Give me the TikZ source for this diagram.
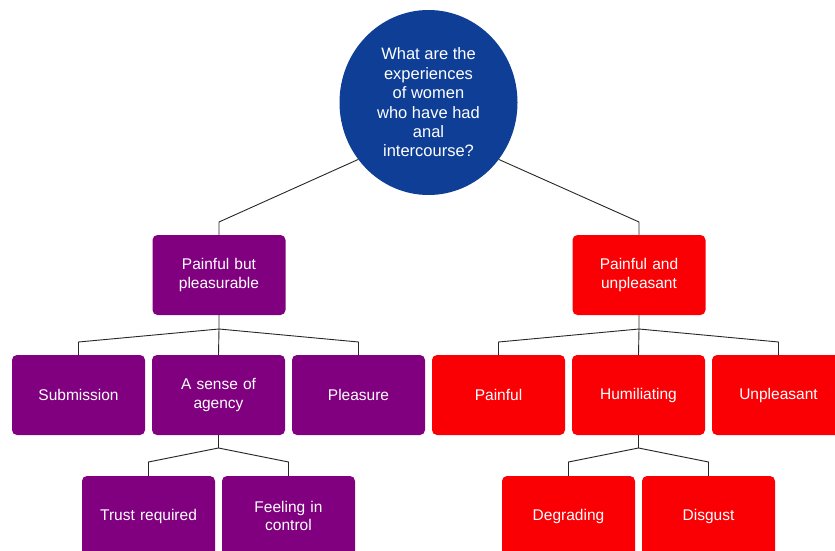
\documentclass[tikz,border=0pt]{standalone}
\usepackage{fontspec}
\setmainfont{Liberation Sans}
\usetikzlibrary{shapes.geometric}
\definecolor{qblue}{RGB}{14,62,150}
\definecolor{qpurple}{RGB}{128,0,128}
\definecolor{qred}{RGB}{250,0,5}
\begin{document}
\begin{tikzpicture}[x=1pt,y=-1pt,
  box/.style={rounded corners=5pt, minimum width=133pt, minimum height=80pt,
    text=white, align=center, inner sep=0pt, text width=125pt,
    font=\fontsize{15.5}{18.5}\selectfont},
  pbox/.style={box, fill=qpurple},
  rbox/.style={box, fill=qred},
  qnode/.style={ellipse, fill=qblue, minimum width=178pt, minimum height=185pt,
    inner sep=0pt, text=white, align=center,
    font=\fontsize{16.5}{19.4}\selectfont},
  conn/.style={draw=black!85, line width=0.9pt}]
\useasboundingbox (0,0) rectangle (835,551);
\begin{scope}
\clip (0,0) rectangle (835,551);
% root
\node[qnode] (q) at (428.5,102.5) {What are the\\experiences\\of women\\who have had\\anal\\intercourse?};
% level 1
\node[pbox] (pp) at (219,275) {Painful but\\pleasurable};
\node[rbox] (pu) at (639,275) {Painful and\\unpleasant};
% level 2
\node[pbox] (sub) at (78.5,395) {Submission};
\node[pbox] (agy) at (218.5,395) {A sense of\\agency};
\node[pbox] (plz) at (358.5,395) {Pleasure};
\node[rbox] (pnf) at (498.5,395) {Painful};
\node[rbox] (hum) at (638.5,395) {Humiliating};
\node[rbox] (unp) at (778.5,395) {Unpleasant};
% level 3
\node[pbox] (tru) at (148.5,516) {Trust required};
\node[pbox] (fic) at (288.5,516) {Feeling in\\control};
\node[rbox] (deg) at (568.5,516) {Degrading};
\node[rbox] (dis) at (708.5,516) {Disgust};
% connector coordinates
\coordinate (kl) at (219,222);
\coordinate (kr) at (639,222);
\coordinate (jp) at (219,329);
\coordinate (jp1) at (78.5,342);
\coordinate (jp3) at (358.5,342);
\coordinate (ju) at (639,329);
\coordinate (ju1) at (498.5,342);
\coordinate (ju3) at (778.5,342);
\coordinate (ja) at (218.5,448);
\coordinate (ja1) at (148.5,462);
\coordinate (ja2) at (288.5,462);
\coordinate (jh) at (638.5,448);
\coordinate (jh1) at (568.5,462);
\coordinate (jh2) at (708.5,462);
% connectors
\draw[conn] (q.219) -- (kl) -- (pp.north);
\draw[conn] (q.-39) -- (kr) -- (pu.north);
\draw[conn] (pp.south) -- (jp) -- (agy.north);
\draw[conn] (jp) -- (jp1) -- (sub.north);
\draw[conn] (jp) -- (jp3) -- (plz.north);
\draw[conn] (pu.south) -- (ju) -- (hum.north);
\draw[conn] (ju) -- (ju1) -- (pnf.north);
\draw[conn] (ju) -- (ju3) -- (unp.north);
\draw[conn] (agy.south) -- (ja);
\draw[conn] (ja) -- (ja1) -- (tru.north);
\draw[conn] (ja) -- (ja2) -- (fic.north);
\draw[conn] (hum.south) -- (jh);
\draw[conn] (jh) -- (jh1) -- (deg.north);
\draw[conn] (jh) -- (jh2) -- (dis.north);
\end{scope}
\end{tikzpicture}
\end{document}
